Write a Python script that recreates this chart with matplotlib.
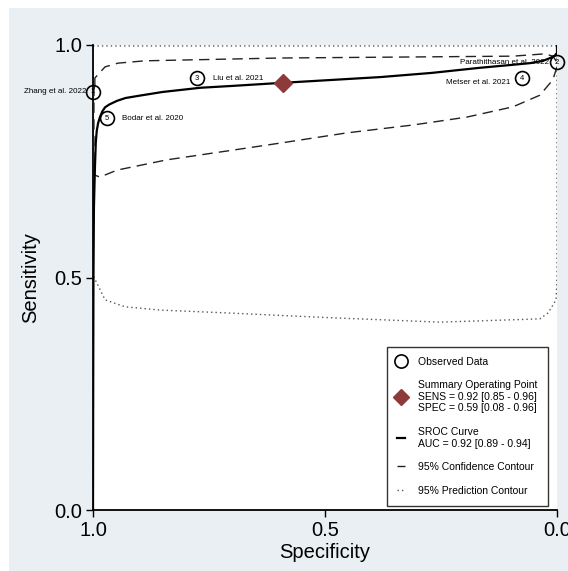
import matplotlib
matplotlib.use("Agg")
import matplotlib.pyplot as plt
from matplotlib.lines import Line2D
from matplotlib.patches import Rectangle

plt.rcParams["font.family"] = ["Liberation Sans", "DejaVu Sans"]

# observed studies
study_names = ["Zhang et al. 2022", "Parathithasan et al. 2022", "Liu et al. 2021",
               "Metser et al. 2021", "Bodar et al. 2020"]
study_ids = ["1", "2", "3", "4", "5"]
study_spec = [1.0, 0.0, 0.776, 0.075, 0.970]
study_sens = [0.899, 0.963, 0.929, 0.929, 0.843]

# summary operating point
summ_spec = 0.59
summ_sens = 0.918
summ_text = "SENS = 0.92 [0.85 - 0.96]\nSPEC = 0.59 [0.08 - 0.96]"
auc_text = "AUC = 0.92 [0.89 - 0.94]"

# SROC curve
sroc_spec = [1.0, 0.9995, 0.999, 0.998, 0.996, 0.994, 0.992, 0.989, 0.985, 0.980,
             0.974, 0.965, 0.948, 0.930, 0.900, 0.850, 0.769, 0.700, 0.603, 0.500,
             0.381, 0.270, 0.166, 0.100, 0.058, 0.030, 0.015, 0.005, 0.0, 0.0]
sroc_sens = [0.0, 0.30, 0.50, 0.65, 0.731, 0.790, 0.815, 0.832, 0.845, 0.857,
             0.866, 0.872, 0.880, 0.886, 0.891, 0.899, 0.908, 0.912, 0.918, 0.924,
             0.931, 0.940, 0.951, 0.957, 0.961, 0.966, 0.972, 0.977, 0.983, 1.0]

# 95% confidence contour
conf_spec = [0.996, 0.996, 0.974, 0.946, 0.888, 0.597, 0.095, 0.026, 0.009, 0.0,
             0.0, 0.009, 0.037, 0.095, 0.194, 0.310, 0.453, 0.597, 0.698, 0.841,
             0.948, 0.985, 0.996, 0.998, 0.998, 0.998, 0.996]
conf_sens = [0.914, 0.929, 0.953, 0.961, 0.966, 0.972, 0.976, 0.981, 0.976, 0.963,
             0.953, 0.925, 0.892, 0.867, 0.845, 0.828, 0.811, 0.789, 0.774, 0.753,
             0.731, 0.716, 0.720, 0.742, 0.839, 0.903, 0.914]

# 95% prediction contour
pred_spec = [1.0, 0.0, 0.0, 0.0, 0.002, 0.019, 0.037, 0.252, 0.500, 0.716,
             0.856, 0.931, 0.974, 1.0, 1.0]
pred_sens = [0.998, 0.998, 0.70, 0.50, 0.452, 0.424, 0.411, 0.404, 0.414, 0.424,
             0.430, 0.437, 0.452, 0.505, 0.998]

fig = plt.figure(figsize=(5.68, 5.71), dpi=100, facecolor="white")
fig.patches.append(Rectangle((9 / 568, 0), 1, 1 - 8 / 571, transform=fig.transFigure,
                             facecolor="#e9eff2", edgecolor="none", zorder=-10))
ax = fig.add_axes([93 / 568, 1 - 510 / 571, 464 / 568, 465 / 571])
ax.set_facecolor("white")

ax.plot(pred_spec, pred_sens, color="#555555", ls=(0, (1, 2.2)), lw=1.0, zorder=2)
ax.plot(conf_spec, conf_sens, color="#222222", ls=(0, (7.5, 4.5)), lw=1.0, zorder=3)
ax.plot(sroc_spec, sroc_sens, color="black", lw=1.6, zorder=4)

ax.plot(study_spec, study_sens, "o", ms=10, mfc="none", mec="black", mew=1.2,
        zorder=5, clip_on=False)
for sid, sp, se in zip(study_ids, study_spec, study_sens):
    ax.text(sp, se, sid, fontsize=5.5, ha="center", va="center", zorder=6)

offsets = {
    "Zhang et al. 2022": (-5, 0, "right"),
    "Parathithasan et al. 2022": (-6, 0, "right"),
    "Liu et al. 2021": (11.5, 0, "left"),
    "Metser et al. 2021": (-8.5, -3.5, "right"),
    "Bodar et al. 2020": (11, 0, "left"),
}
for name, sp, se in zip(study_names, study_spec, study_sens):
    dx, dy, ha = offsets[name]
    ax.annotate(name, (sp, se), xytext=(dx, dy), textcoords="offset points",
                fontsize=5.8, ha=ha, va="center", annotation_clip=False)

ax.plot([summ_spec], [summ_sens], "D", ms=9, color="#8e3a3a", zorder=6)

ax.set_xlim(1, 0)
ax.set_ylim(0, 1)
ax.set_xticks([1.0, 0.5, 0.0])
ax.set_xticklabels(["1.0", "0.5", "0.0"])
ax.set_yticks([0.0, 0.5, 1.0])
ax.set_yticklabels(["0.0", "0.5", "1.0"])
ax.tick_params(direction="out", length=5, width=1, labelsize=14.5, pad=3)
ax.spines["top"].set_visible(False)
ax.spines["right"].set_visible(False)
ax.spines["left"].set_linewidth(1.3)
ax.spines["bottom"].set_linewidth(1.3)
ax.set_xlabel("Specificity", fontsize=14.5, labelpad=2)
ax.set_ylabel("Sensitivity", fontsize=14.5, labelpad=10)

handles = [
    Line2D([], [], marker="o", ls="none", ms=9.5, mfc="none", mec="black", mew=1.2),
    Line2D([], [], marker="D", ls="none", ms=8, color="#8e3a3a"),
    Line2D([], [], color="black", lw=1.6),
    Line2D([], [], color="#222222", lw=1.0, ls=(0, (7.5, 4.5))),
    Line2D([], [], color="#555555", lw=1.0, ls=(0, (1, 2.2))),
]
labels = [
    "Observed Data",
    "Summary Operating Point\n" + summ_text,
    "SROC Curve\n" + auc_text,
    "95% Confidence Contour",
    "95% Prediction Contour",
]
leg = ax.legend(handles, labels, loc="upper left", bbox_to_anchor=(0.634, 0.351),
                fontsize=7.5, frameon=True, fancybox=False, edgecolor="black",
                handlelength=0.75, handletextpad=1.3, borderpad=0.95, labelspacing=1.3,
                borderaxespad=0)
leg.get_frame().set_linewidth(1.0)

fig.savefig("out.png", dpi=100, facecolor="white")
